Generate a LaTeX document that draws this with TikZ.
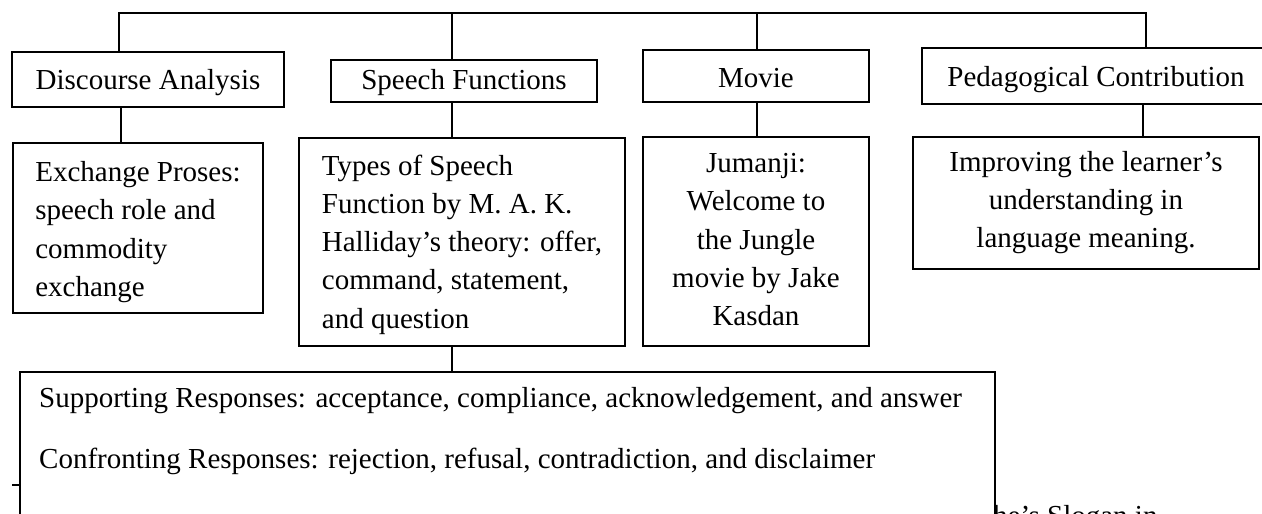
\documentclass[tikz,border=0pt]{standalone}
\usepackage{fontspec}
\setmainfont{Liberation Serif}
\begin{document}
\begin{tikzpicture}[x=1pt,y=-1pt,
  box/.style={draw, line width=1.5pt, fill=white, inner sep=0pt,
    font=\fontsize{29}{38.3}\selectfont, text depth=0pt, text height=#1pt},
  lbox/.style={box=#1, align=left},
  cbox/.style={box=#1, align=center},
  conn/.style={line width=1.5pt},
  txt/.style={inner sep=0pt, font=\fontsize{29}{38.3}\selectfont}]
\useasboundingbox (0,0) rectangle (1262,514);
\clip (0,0) rectangle (1262,514);

% partly hidden text behind the bottom box
\node[txt, anchor=base west] (hid) at (993,525) {he’s Slogan in};

% top row
\node[cbox=19, minimum width=272pt, minimum height=55pt] (da) at (148,79.5) {Discourse Analysis};
\node[cbox=17, minimum width=266pt, minimum height=42pt] (sf) at (464,81) {Speech Functions};
\node[cbox=23, minimum width=226pt, minimum height=52pt] (mv) at (756,76) {Movie};
\node[cbox=21, minimum width=348pt, minimum height=56pt] (pc) at (1096,76) {Pedagogical Contribution};

% second row
\node[lbox=136.8, minimum width=250pt, minimum height=170pt] (ex) at (138,228)
  {Exchange Proses:\\speech role and\\commodity\\exchange};
\node[lbox=172.4, minimum width=326pt, minimum height=208pt] (ty) at (462,242)
  {Types of Speech\\Function by M. A. K.\\Halliday’s theory: offer,\\command, statement,\\and question};
\node[cbox=168.4, minimum width=226pt, minimum height=209pt] (ju) at (756,241.5)
  {Jumanji:\\Welcome to\\the Jungle\\movie by Jake\\Kasdan};
\node[cbox=89.2, minimum width=346pt, minimum height=132pt] (im) at (1086,203)
  {Improving the learner’s\\understanding in\\language meaning.};

% bottom box
\node[draw, line width=1.5pt, fill=white, inner sep=0pt, minimum width=975pt,
  minimum height=200pt, anchor=north west] (bx) at (19,371) {};
\node[txt, anchor=base west] (sr) at (39,407)
  {Supporting Responses: acceptance, compliance, acknowledgement, and answer};
\node[txt, anchor=base west] (cr) at (39,468)
  {Confronting Responses: rejection, refusal, contradiction, and disclaimer};

% connectors
\coordinate (t1) at (119,13);
\coordinate (t2) at (452,13);
\coordinate (t3) at (757,13);
\coordinate (t4) at (1146,13);
\draw[conn] (t1 |- da.north) -- (t1) -- (t4) -- (t4 |- pc.north);
\draw[conn] (t2) -- (t2 |- sf.north);
\draw[conn] (t3) -- (t3 |- mv.north);

\coordinate (b1) at (121,0);
\coordinate (b2) at (452,0);
\coordinate (b3) at (757,0);
\coordinate (b4) at (1143,0);
\draw[conn] (b1 |- da.south) -- (b1 |- ex.north);
\draw[conn] (b2 |- sf.south) -- (b2 |- ty.north);
\draw[conn] (b3 |- mv.south) -- (b3 |- ju.north);
\draw[conn] (b4 |- pc.south) -- (b4 |- im.north);
\draw[conn] (b2 |- ty.south) -- (b2 |- bx.north);

\coordinate (k1) at (12,485);
\draw[conn] (k1) -- (k1 -| bx.west);
\end{tikzpicture}
\end{document}
